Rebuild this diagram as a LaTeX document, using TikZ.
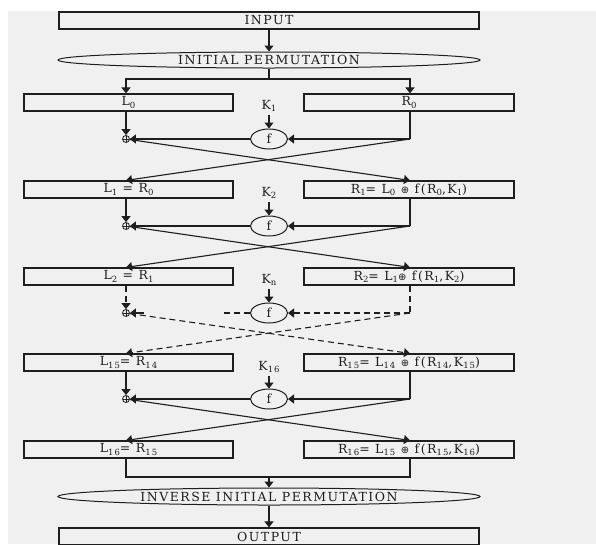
\documentclass[tikz,border=0pt]{standalone}
\usepackage{fontspec}
\setmainfont[LetterSpace=12]{DejaVu Serif}
\newfontfamily\symfont{DejaVu Sans}
\usetikzlibrary{shapes.geometric,arrows.meta}
\definecolor{bg}{HTML}{F0F0F0}
\definecolor{ink}{HTML}{1E1E1E}
\newcommand\sbx[1]{\raisebox{-2.3pt}{\fontsize{8.5}{8.5}\selectfont #1}}
\newcommand\xr{{\symfont\fontsize{10}{10}\selectfont ⊕}}
\begin{document}
\begin{tikzpicture}[x=1pt,y=-1pt,
  every node/.style={font=\fontsize{12.5}{12.5}\selectfont, text=ink},
  box/.style={draw=ink, line width=1.2pt, fill=bg, minimum height=17pt, inner sep=0pt},
  lbox/.style={box, minimum width=209pt},
  rbox/.style={box, minimum width=210pt},
  wbox/.style={box, minimum width=420pt},
  perm/.style={ellipse, draw=ink, line width=1pt, minimum width=422pt, minimum height=16pt, inner sep=0pt},
  fn/.style={ellipse, draw=ink, line width=1pt, minimum width=37pt, minimum height=20pt, inner sep=0pt},
  xo/.style={circle, draw=ink, line width=0.8pt, minimum size=7pt, inner sep=0pt,
    path picture={\draw[ink, line width=0.8pt] (path picture bounding box.north) -- (path picture bounding box.south)
      (path picture bounding box.west) -- (path picture bounding box.east);}},
  conn/.style={draw=ink, line width=1.1pt},
  arr/.style={conn, -{Triangle[length=6pt,width=9pt]}},
  dsh/.style={dash pattern=on 6pt off 4pt}
]
\useasboundingbox (0,0) rectangle (596,544);
\fill[bg] (8,11) rectangle (596,544);

% top
\node[wbox] (input) at (269,20.5) {INPUT};
\node[perm] (ip) at (269,60) {INITIAL PERMUTATION};
\coordinate (sp) at (269,79);

% rows
\node[lbox] (L0) at (128.5,102.5) {L\sbx{0}};
\node[rbox] (R0) at (409,102.5) {R\sbx{0}};
\node[lbox] (L1) at (128.5,189.5) {L\sbx{1} = R\sbx{0}};
\node[rbox] (R1) at (409,189.5) {R\sbx{1}= L\sbx{0} \xr{} f(R\sbx{0},K\sbx{1})};
\node[lbox] (L2) at (128.5,276.5) {L\sbx{2} = R\sbx{1}};
\node[rbox] (R2) at (409,276.5) {R\sbx{2}= L\sbx{1}\xr{} f(R\sbx{1},K\sbx{2})};
\node[lbox] (L15) at (128.5,362.5) {L\sbx{15}= R\sbx{14}};
\node[rbox] (R15) at (409,362.5) {R\sbx{15}= L\sbx{14} \xr{} f(R\sbx{14},K\sbx{15})};
\node[lbox] (L16) at (128.5,449.5) {L\sbx{16}= R\sbx{15}};
\node[rbox] (R16) at (409,449.5) {R\sbx{16}= L\sbx{15} \xr{} f(R\sbx{15},K\sbx{16})};

% round elements
\node[xo] (x1) at (126,139) {};
\node[fn] (f1) at (269,139) {f};
\node (k1) at (269,106) {K\sbx{1}};
\coordinate (c1) at (410,139);

\node[xo] (x2) at (126,226) {};
\node[fn] (f2) at (269,226) {f};
\node (k2) at (269,193) {K\sbx{2}};
\coordinate (c2) at (410,226);

\node[xo] (x3) at (126,313) {};
\node[fn] (f3) at (269,313) {f};
\node (k3) at (269,280) {K\sbx{n}};
\coordinate (c3) at (410,313);
\coordinate (d3) at (223,313);
\coordinate (e3) at (144,313);

\node[xo] (x4) at (126,399) {};
\node[fn] (f4) at (269,399) {f};
\node (k4) at (269,367) {K\sbx{16}};
\coordinate (c4) at (410,399);

% bottom
\coordinate (jl) at (126,477);
\coordinate (jm) at (269,477);
\coordinate (jr) at (410,477);
\node[perm, minimum height=17pt] (iip) at (269,496.5) {INVERSE INITIAL PERMUTATION};
\node[wbox] (output) at (269,536.5) {OUTPUT};

% connectors top
\draw[arr] (input) -- (ip);
\draw[conn] (ip.south) -- (sp);
\draw[arr] (sp) -| (x1 |- L0.north);
\draw[arr] (sp) -| (c1 |- R0.north);

% round 1
\draw[arr] (k1) -- (f1);
\draw[arr] (L0.south -| x1) -- (x1);
\draw[conn] (R0.south -| c1) -- (c1);
\draw[arr] (c1) -- (f1);
\draw[arr] (f1) -- (x1);
\draw[arr] (x1) -- (R1.north -| c1);
\draw[arr] (c1) -- (L1.north -| x1);

% round 2
\draw[arr] (k2) -- (f2);
\draw[arr] (L1.south -| x2) -- (x2);
\draw[conn] (R1.south -| c2) -- (c2);
\draw[arr] (c2) -- (f2);
\draw[arr] (f2) -- (x2);
\draw[arr] (x2) -- (R2.north -| c2);
\draw[arr] (c2) -- (L2.north -| x2);

% round n (dashed)
\draw[arr] (k3) -- (f3);
\draw[arr,dsh] (L2.south -| x3) -- (x3);
\draw[conn,dsh] (R2.south -| c3) -- (c3);
\draw[arr,dsh] (c3) -- (f3);
\draw[conn,dsh] (f3) -- (d3);
\draw[arr] (e3) -- (x3);
\draw[arr,dsh] (x3) -- (R15.north -| c3);
\draw[arr,dsh] (c3) -- (L15.north -| x3);

% round 16
\draw[arr] (k4) -- (f4);
\draw[arr] (L15.south -| x4) -- (x4);
\draw[conn] (R15.south -| c4) -- (c4);
\draw[arr] (c4) -- (f4);
\draw[arr] (f4) -- (x4);
\draw[arr] (x4) -- (R16.north -| c4);
\draw[arr] (c4) -- (L16.north -| x4);

% output
\draw[conn] (L16.south -| jl) -- (jl) -- (jr) -- (R16.south -| jr);
\draw[arr] (jm) -- (iip);
\draw[arr] (iip) -- (output);
\end{tikzpicture}
\end{document}
